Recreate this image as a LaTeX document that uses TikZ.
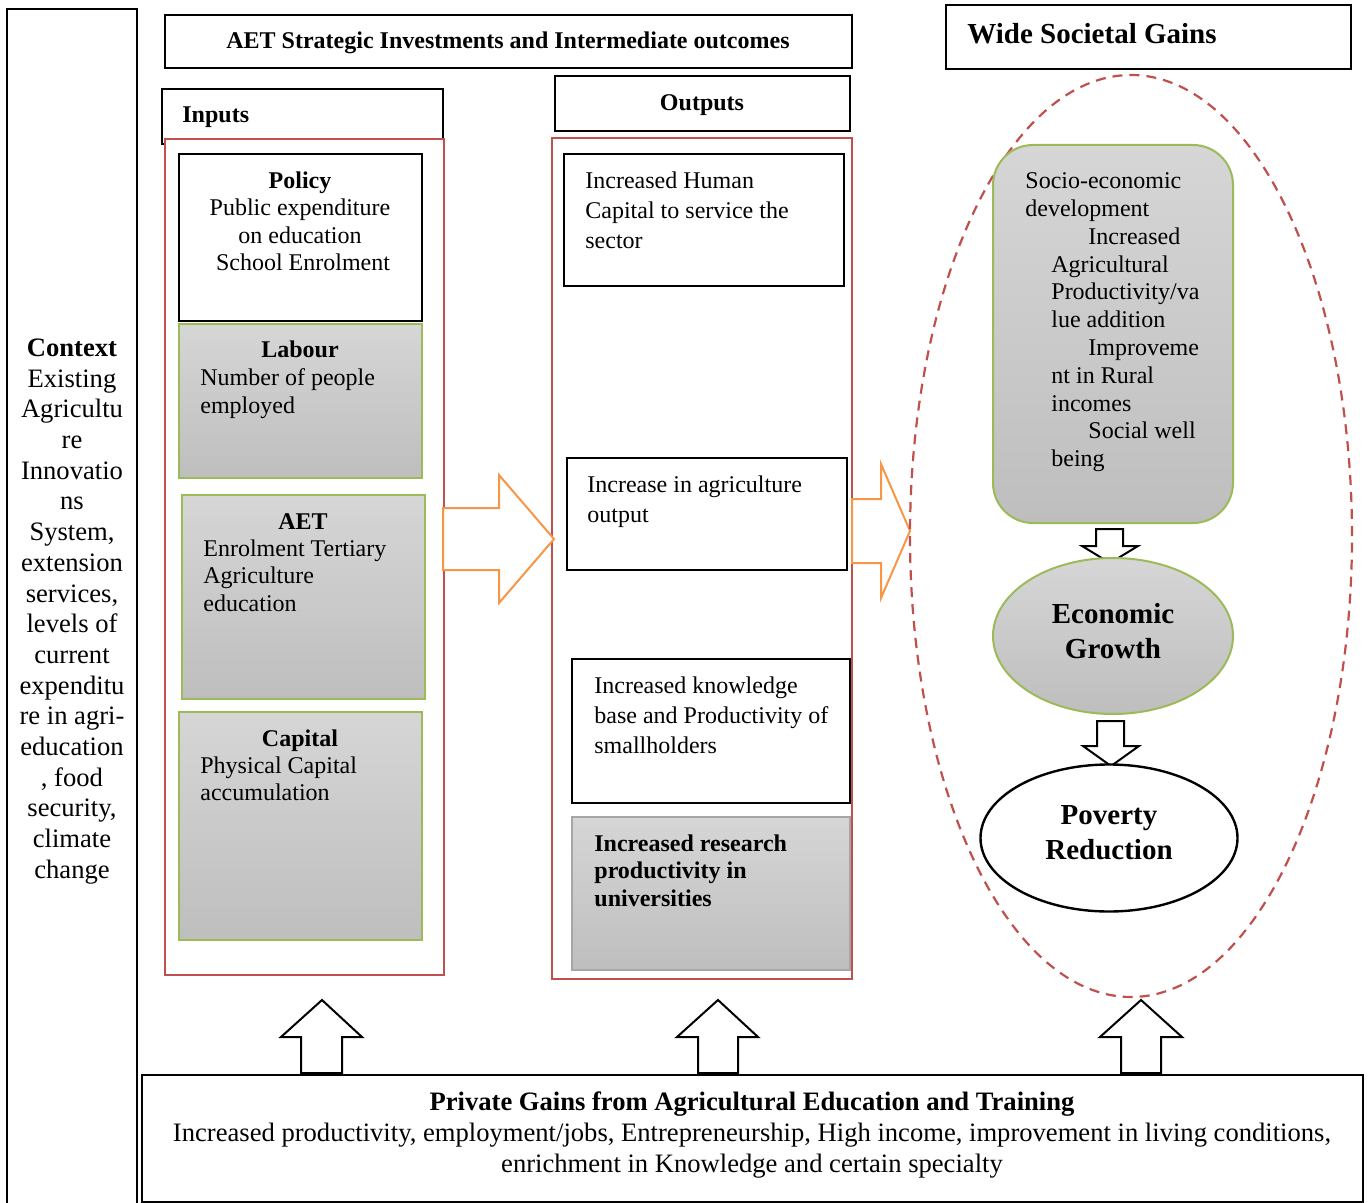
\documentclass[tikz,border=0pt]{standalone}
\usepackage{fontspec}
\setmainfont{Liberation Serif}
\usetikzlibrary{fit,shapes.geometric}
\definecolor{redbox}{RGB}{192,80,77}
\definecolor{greenb}{RGB}{155,187,89}
\definecolor{orangea}{RGB}{247,150,70}
\definecolor{gtop}{RGB}{214,214,214}
\definecolor{gbot}{RGB}{190,190,190}
\definecolor{gborder}{RGB}{166,166,166}
\begin{document}
\begin{tikzpicture}[x=0.5pt,y=-0.5pt,
  blackbox/.style={draw=black, line width=1pt, inner sep=0pt, fill=white},
  redframe/.style={draw=redbox, line width=1.1pt, inner sep=0pt, fill=white},
  greybox/.style={draw=greenb, line width=1pt, inner sep=0pt, top color=gtop, bottom color=gbot},
  plainbox/.style={draw=gborder, line width=0.8pt, inner sep=0pt, top color=gtop, bottom color=gbot},
  bodytxt/.style={inner sep=0pt, font=\fontsize{12}{13.75}\selectfont, align=left, anchor=north west},
  outtxt/.style={inner sep=0pt, font=\fontsize{12}{15}\selectfont, align=left, anchor=north west},
  headtxt/.style={inner sep=0pt, font=\fontsize{12}{13.75}\selectfont\bfseries, anchor=base},
  bigtxt/.style={inner sep=0pt, font=\fontsize{14.5}{17.5}\selectfont\bfseries, align=center, anchor=north},
  orangearrow/.style={draw=orangea, line width=1pt, fill=white, line join=miter},
  blockarrow/.style={draw=black, line width=1pt, fill=white, line join=miter},
]
\useasboundingbox (0,0) rectangle (1370,1203);
\fill[white] (0,0) rectangle (1370,1203);

% Context column
\node[blackbox, line width=1.2pt, fit={(7,9) (137,1215)}] (context) {};
\node[inner sep=0pt, anchor=north, align=center, font=\fontsize{13.3}{15.35}\selectfont] (contexttxt) at (72,338.4)
 {\textbf{Context}\\Existing\\Agricultu\\re\\Innovatio\\ns\\System,\\extension\\services,\\levels of\\current\\expenditu\\re in agri-\\education\\, food\\security,\\climate\\change};

% Title boxes
\node[blackbox, fit={(165,15) (852,68)}] (title) {};
\node[headtxt] (titletxt) at (508,49) {AET Strategic Investments and Intermediate outcomes};
\node[blackbox, fit={(946,5) (1351,69)}] (wide) {};
\node[inner sep=0pt, anchor=base west, font=\fontsize{14.5}{17.5}\selectfont\bfseries] (widetxt) at (967,43.6) {Wide Societal Gains};

% Inputs
\node[blackbox, fit={(162,89) (443,144)}] (inputshead) {};
\node[headtxt, anchor=base west] (inputstxt) at (182,123) {Inputs};
\node[redframe, fit={(165,139) (444,975)}] (inputs) {};
\node[blackbox, fit={(179,154) (422,321)}] (policy) {};
\node[inner sep=0pt, anchor=north, align=center, font=\fontsize{12}{13.65}\selectfont] (policytxt) at (300,171.4)
 {\textbf{Policy}\\Public expenditure\\on education\\\hspace*{3pt}School Enrolment};
\node[greybox, fit={(179,324) (422,478)}] (labour) {};
\node[headtxt] (labourhead) at (300,358) {Labour};
\node[bodytxt] (labourtxt) at (200,368.4) {Number of people\\employed};
\node[greybox, fit={(182,495) (425,699)}] (aet) {};
\node[headtxt] (aethead) at (303,529) {AET};
\node[bodytxt] (aettxt) at (203,539.4) {Enrolment Tertiary\\Agriculture\\education};
\node[greybox, fit={(179,712) (422,940)}] (capital) {};
\node[headtxt] (capitalhead) at (300,746) {Capital};
\node[bodytxt] (capitaltxt) at (200,756.4) {Physical Capital\\accumulation};

% Outputs
\node[blackbox, fit={(555,76) (850,131)}] (outputshead) {};
\node[headtxt] (outputstxt) at (702,111) {Outputs};
\node[redframe, fit={(552,138) (852,979)}] (outputs) {};
\node[blackbox, fit={(564,154) (844,286)}] (out1) {};
\node[outtxt] (out1txt) at (585,171.4) {Increased Human\\Capital to service the\\sector};
\node[blackbox, fit={(567,458) (847,570)}] (out2) {};
\node[outtxt] (out2txt) at (587,475.4) {Increase in agriculture\\output};
\node[blackbox, fit={(572,659) (850,803)}] (out3) {};
\node[outtxt] (out3txt) at (594,676.4) {Increased knowledge\\base and Productivity of\\smallholders};
\node[plainbox, fit={(572,817) (850,970)}] (out4) {};
\node[bodytxt, font=\fontsize{12}{13.75}\selectfont\bfseries] (out4txt) at (594,834.4) {Increased research\\productivity in\\universities};

% Orange arrows
\draw[orangearrow] (443,508) -- (499,508) -- (499,475) -- (554,539) -- (499,603) -- (499,570) -- (443,570) -- cycle;
\draw[orangearrow] (852,499) -- (881,499) -- (881,464) -- (910,531) -- (881,598) -- (881,563) -- (852,563) -- cycle;

% Wide societal gains region
\node[ellipse, draw=redbox, line width=1.1pt, dash pattern=on 5pt off 3.5pt, minimum width=221pt, minimum height=461pt, inner sep=0pt] (region) at (1131,536) {};
\node[greybox, rounded corners=20pt, fit={(993,145) (1233,523)}] (socio) {};
\node[inner sep=0pt, anchor=north west, align=left, font=\fontsize{12}{13.9}\selectfont] (sociotxt) at (1025,172.4)
 {Socio-economic\\development\\\hspace*{31.5pt}Increased\\\hspace*{13pt}Agricultural\\\hspace*{13pt}Productivity/va\\\hspace*{13pt}lue addition\\\hspace*{31.5pt}Improveme\\\hspace*{13pt}nt in Rural\\\hspace*{13pt}incomes\\\hspace*{31.5pt}Social well\\\hspace*{13pt}being};
\draw[blockarrow] (1096,529) -- (1123,529) -- (1123,546) -- (1138,546) -- (1110,563) -- (1082,546) -- (1096,546) -- cycle;
\node[ellipse, draw=greenb, line width=1pt, top color=gtop, bottom color=gbot, minimum width=120pt, minimum height=78pt, inner sep=0pt] (growth) at (1113,636) {};
\node[bigtxt] (growthtxt) at (1113,602.6) {Economic\\Growth};
\draw[blockarrow] (1097,721) -- (1124,721) -- (1124,746) -- (1139,746) -- (1111,766) -- (1083,746) -- (1097,746) -- cycle;
\node[ellipse, draw=black, line width=1.2pt, fill=white, minimum width=128.5pt, minimum height=73.5pt, inner sep=0pt] (poverty) at (1109,838) {};
\node[bigtxt] (povertytxt) at (1109,805.6) {Poverty\\Reduction};

% Bottom private gains
\draw[blockarrow] (301,1073) -- (301,1037) -- (281,1037) -- (322,1000) -- (362,1037) -- (342,1037) -- (342,1073) -- cycle;
\draw[blockarrow] (698,1073) -- (698,1037) -- (677,1037) -- (718,1000) -- (758,1037) -- (738,1037) -- (738,1073) -- cycle;
\draw[blockarrow] (1121,1073) -- (1121,1037) -- (1100,1037) -- (1141,1000) -- (1182,1037) -- (1161,1037) -- (1161,1073) -- cycle;
\node[blackbox, fit={(142,1075) (1363,1202)}] (private) {};
\node[inner sep=0pt, anchor=north, align=center, font=\fontsize{13.3}{15.5}\selectfont] (privatetxt) at (752,1091.4)
 {\textbf{Private Gains from Agricultural Education and Training}\\Increased productivity, employment/jobs, Entrepreneurship, High income, improvement in living conditions,\\enrichment in Knowledge and certain specialty};
\end{tikzpicture}
\end{document}
